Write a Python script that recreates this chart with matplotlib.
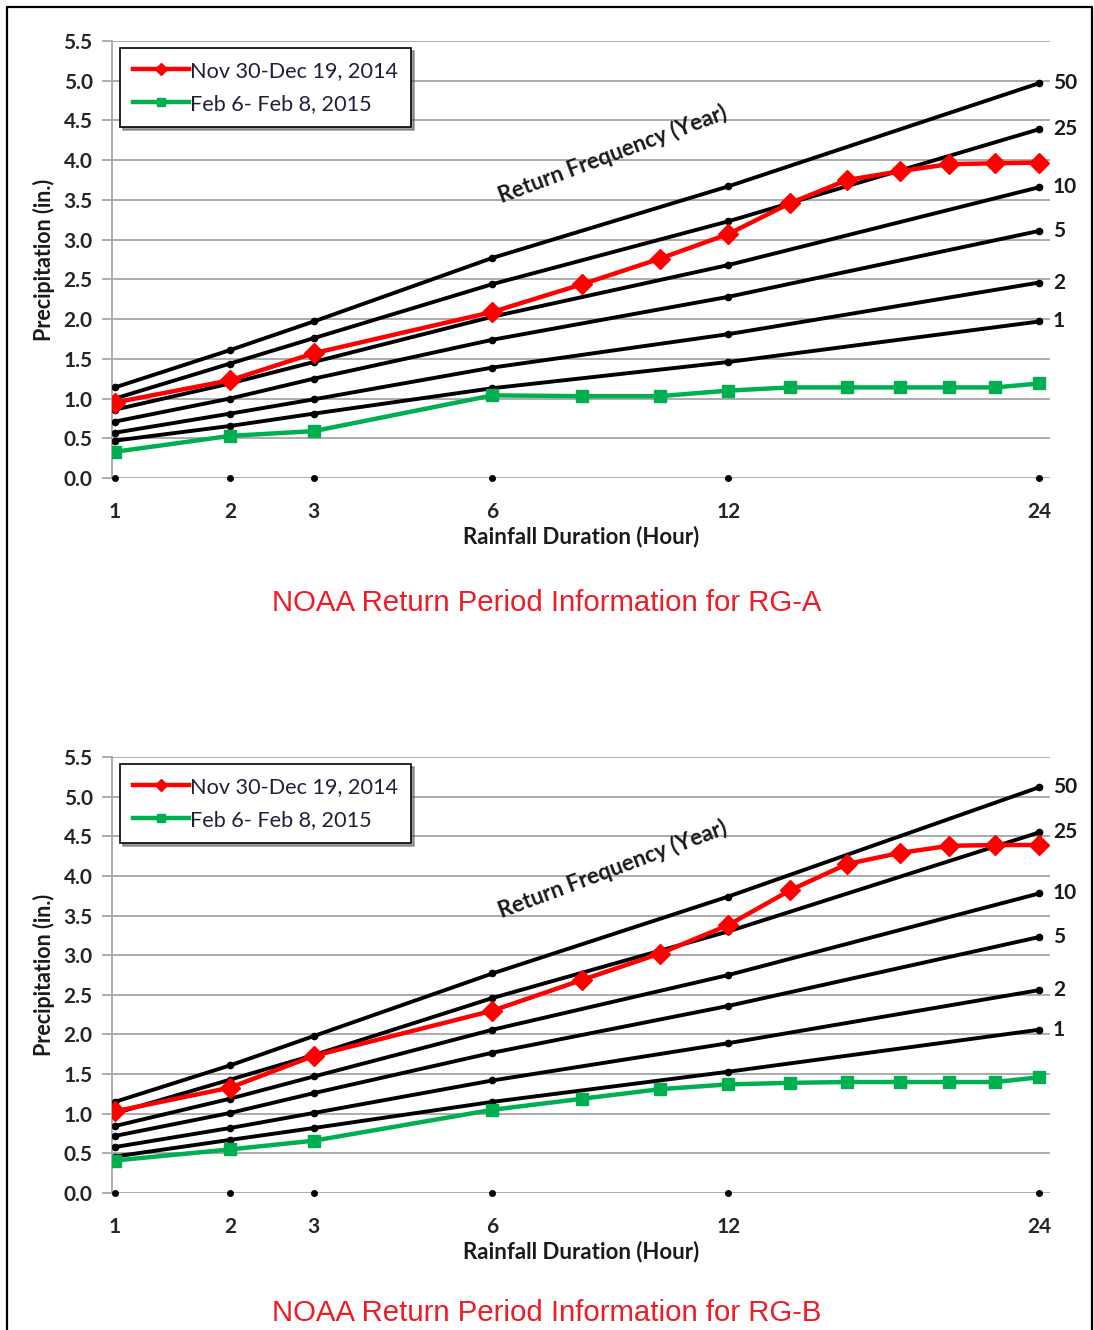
import numpy as np
import matplotlib
matplotlib.use("Agg")
import matplotlib.pyplot as plt
from matplotlib.lines import Line2D

# durations (hours)
durations = [1, 2, 3, 6, 12, 24]
event_hours = [1, 2, 3, 6, 8, 10, 12, 14, 16, 18, 20, 22, 24]
return_periods = ["50", "25", "10", "5", "2", "1"]

# NOAA precipitation frequency curves, RG-A (inches), one row per return period
rg_a_curves = [
    [1.14, 1.61, 1.97, 2.77, 3.67, 4.97],
    [1.00, 1.44, 1.76, 2.44, 3.23, 4.39],
    [0.86, 1.19, 1.46, 2.03, 2.68, 3.66],
    [0.71, 1.00, 1.25, 1.74, 2.28, 3.11],
    [0.57, 0.81, 0.99, 1.39, 1.81, 2.46],
    [0.47, 0.655, 0.81, 1.13, 1.46, 1.97],
]
rg_a_nov = [0.95, 1.23, 1.57, 2.09, 2.44, 2.76, 3.07, 3.46, 3.75, 3.86, 3.95, 3.96, 3.97]
rg_a_feb = [0.33, 0.53, 0.59, 1.04, 1.03, 1.03, 1.10, 1.14, 1.14, 1.14, 1.14, 1.14, 1.19]

# RG-B
rg_b_curves = [
    [1.15, 1.61, 1.98, 2.77, 3.74, 5.12],
    [1.005, 1.43, 1.74, 2.46, 3.30, 4.55],
    [0.845, 1.19, 1.47, 2.06, 2.75, 3.78],
    [0.72, 1.01, 1.26, 1.77, 2.36, 3.23],
    [0.58, 0.82, 1.01, 1.42, 1.89, 2.56],
    [0.46, 0.67, 0.82, 1.15, 1.53, 2.06],
]
rg_b_nov = [1.03, 1.33, 1.73, 2.30, 2.69, 3.02, 3.38, 3.82, 4.15, 4.29, 4.38, 4.39, 4.39]
rg_b_feb = [0.41, 0.55, 0.66, 1.05, 1.19, 1.31, 1.37, 1.39, 1.40, 1.40, 1.40, 1.40, 1.46]

yticks = np.arange(0, 5.51, 0.5)
label_font = "Lato"


def fwd(x):
    x = np.asarray(x, dtype=float)
    return np.sign(x) * np.abs(x) ** 0.4


def inv(y):
    y = np.asarray(y, dtype=float)
    return np.sign(y) * np.abs(y) ** 2.5


def draw_panel(ax, curves, nov, feb):
    ax.set_xscale("function", functions=(fwd, inv))
    ax.set_xlim(0.98, 24.5)
    ax.set_ylim(0, 5.5)

    for vals, rp in zip(curves, return_periods):
        ax.plot(durations, vals, color="black", lw=2.8, marker="o", ms=4.5, zorder=3)
        ax.annotate(rp, xy=(24.5, vals[-1]), xytext=(2, 0), textcoords="offset points",
                    va="center", ha="left", fontsize=15, fontweight="bold",
                    family=label_font, color="#1a1a1a", annotation_clip=False)

    # markers along the zero line
    ax.plot(durations, [0] * len(durations), ls="none", marker="o", ms=4,
            color="black", zorder=3, clip_on=False)

    ax.plot(event_hours, nov, color="#ff0000", lw=3.2, marker="D", ms=10,
            label="Nov 30-Dec 19, 2014", zorder=4)
    ax.plot(event_hours, feb, color="#00b050", lw=3.2, marker="s", ms=9,
            label="Feb 6- Feb 8, 2015", zorder=5)

    ax.set_yticks(yticks)
    ax.set_yticklabels([f"{v:.1f}" for v in yticks])
    ax.set_xticks(durations)
    ax.set_xticklabels([str(d) for d in durations])
    ax.yaxis.grid(True, color="#a6a6a6", lw=1.3)
    ax.set_axisbelow(True)

    for s in ["top", "right", "bottom"]:
        ax.spines[s].set_visible(False)
    ax.spines["left"].set_color("#a6a6a6")
    ax.spines["left"].set_linewidth(1.3)

    ax.tick_params(axis="y", length=7, color="#a6a6a6", width=1.3, pad=7)
    ax.tick_params(axis="x", length=0, pad=17)
    for lab in ax.get_xticklabels() + ax.get_yticklabels():
        lab.set_fontsize(15)
        lab.set_fontweight("bold")
        lab.set_family(label_font)
        lab.set_color("#262626")

    ax.set_xlabel("Rainfall Duration (Hour)", fontsize=16, fontweight="bold",
                  family=label_font, color="#1a1a1a", labelpad=3)
    ax.set_ylabel("Precipitation (in.)", fontsize=15.5, fontweight="bold",
                  family=label_font, color="#1a1a1a", labelpad=6)

    ax.text(8.74, 4.08, "Return Frequency (Year)", rotation=20.5, ha="center",
            va="center", fontsize=16, fontweight="bold", family=label_font,
            color="#1a1a1a", rotation_mode="anchor")

    leg = ax.legend(loc="upper left", bbox_to_anchor=(0.0085, 0.984), borderaxespad=0,
                    frameon=True, fancybox=False, shadow=True, numpoints=1,
                    handlelength=2.6, handletextpad=0.05, labelspacing=0.6,
                    borderpad=0.6, markerscale=0.65,
                    prop={"family": label_font, "size": 15.6})
    leg.get_frame().set_edgecolor("black")
    leg.get_frame().set_linewidth(1.2)
    for t in leg.get_texts():
        t.set_color("#1f1f3a")


fig = plt.figure(figsize=(10.94, 13.30), dpi=100)
ax1 = fig.add_axes([0.1024, 0.6406, 0.8574, 0.3286])
ax2 = fig.add_axes([0.1024, 0.1030, 0.8574, 0.3278])

draw_panel(ax1, rg_a_curves, rg_a_nov, rg_a_feb)
draw_panel(ax2, rg_b_curves, rg_b_nov, rg_b_feb)

fig.text(0.5, 1 - 603 / 1330, "NOAA Return Period Information for RG-A", ha="center",
         va="center", fontsize=21.2, color="#ee1c25", family="Liberation Sans")
fig.text(0.5, 1 - 1313 / 1330, "NOAA Return Period Information for RG-B", ha="center",
         va="center", fontsize=21.2, color="#ee1c25", family="Liberation Sans")

# page border (left, top, right)
bx = [7 / 1094, 7 / 1094, 1092 / 1094, 1092 / 1094]
by = [0, 1 - 7 / 1330, 1 - 7 / 1330, 0]
fig.add_artist(Line2D(bx, by, color="black", lw=1.6, transform=fig.transFigure))

fig.savefig("out.png", dpi=100)
